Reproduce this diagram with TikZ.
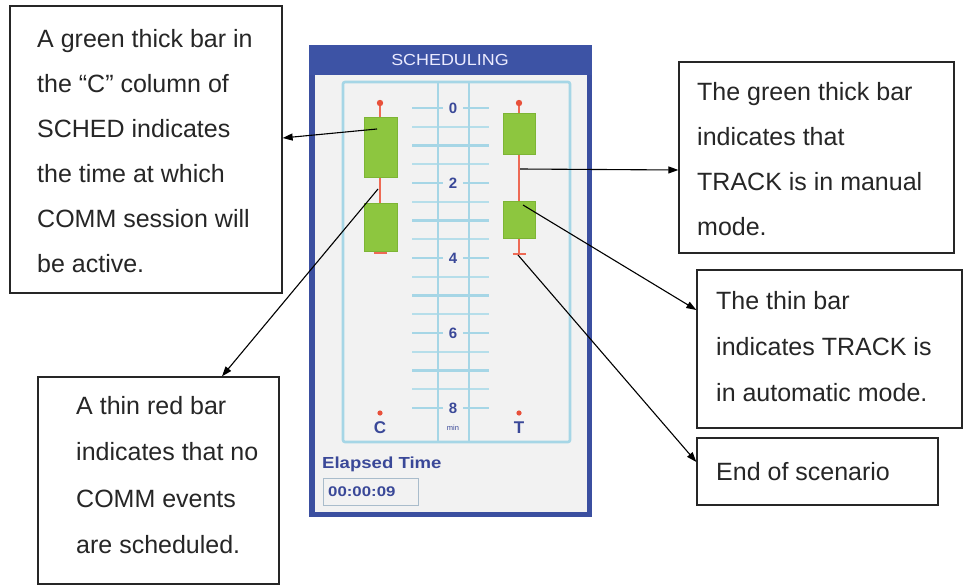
\documentclass[tikz,border=0pt]{standalone}
\usepackage{fontspec}
\setmainfont{Liberation Sans}
\usetikzlibrary{arrows.meta}
\definecolor{frameblue}{HTML}{3B4FA0}
\definecolor{titleblue}{HTML}{3D53A5}
\definecolor{panelgray}{HTML}{F2F2F2}
\definecolor{lblue}{HTML}{A6D6E6}
\definecolor{lblueminor}{HTML}{B6DEEA}
\definecolor{navy}{HTML}{3A4898}
\definecolor{barred}{HTML}{EE6A55}
\definecolor{dotred}{HTML}{E8503A}
\definecolor{bargreen}{HTML}{8DC63F}
\definecolor{bargreenedge}{HTML}{7DB535}
\definecolor{boxedge}{HTML}{A9BCCB}
\begin{document}
\begin{tikzpicture}[x=1pt,y=-1pt,
  callout/.style={draw=black!85, line width=1.3pt, inner sep=0pt, fill=white},
  ctext/.style={font=\fontsize{25}{45}\selectfont, align=left, anchor=north west, inner sep=0pt, text=black!85},
  arr/.style={-{Triangle[length=10pt,width=7pt]}, line width=1.1pt, black},
  greenbar/.style={fill=bargreen, draw=bargreenedge, line width=0.6pt},
  redline/.style={barred, line width=2pt},
  majortick/.style={lblue, line width=2.8pt},
  minortick/.style={lblueminor, line width=1.8pt},
  numlab/.style={font=\bfseries\fontsize{15}{15}\selectfont, text=navy, inner sep=0pt}
]
\useasboundingbox (0,0) rectangle (964,586);

% ---------- SCHEDULING panel ----------
\fill[frameblue] (309,45) rectangle (592,517);
\fill[titleblue] (309,45) rectangle (592,75);
\fill[panelgray] (315,75) rectangle (587,512);
\node[font=\fontsize{16}{16}\selectfont, text=white!92!blue, inner sep=0pt] (title) at (450,60) {\scalebox{1.12}[1]{SCHEDULING}};

% ticks
\foreach \i in {0,...,16}{
  \pgfmathsetmacro{\yy}{108+18.75*\i}
  \pgfmathtruncatemacro{\isodd}{mod(\i,2)}
  \pgfmathtruncatemacro{\islab}{mod(\i,4)==0 ? 1 : 0}
  \ifnum\isodd=1
    \draw[minortick] (412,\yy) -- (489,\yy);
  \else
    \ifnum\islab=1
      \draw[majortick] (412,\yy) -- (443,\yy);
      \draw[majortick] (463,\yy) -- (489,\yy);
    \else
      \draw[majortick] (412,\yy) -- (489,\yy);
    \fi
  \fi
}
\draw[lblue, line width=2.6pt, rounded corners=2pt] (343,82) rectangle (570,442);
\draw[lblue, line width=2.6pt] (438,82) -- (438,442);
\draw[lblue, line width=2.6pt] (469,82) -- (469,442);

\node[numlab] (n0) at (453,108) {0};
\node[numlab] (n2) at (453,183) {2};
\node[numlab] (n4) at (453,258) {4};
\node[numlab] (n6) at (453,333) {6};
\node[numlab] (n8) at (453,408) {8};

% C column
\draw[redline] (380,103) -- (380,253);
\draw[redline] (373.5,253) -- (386.5,253);
\fill[dotred] (380,103) circle (3.2pt);
\draw[greenbar] (364,117) rectangle (397,177);
\draw[greenbar] (364,203) rectangle (397,251);

% T column
\draw[redline] (519,103) -- (519,254);
\draw[redline] (512.5,254) -- (525.5,254);
\fill[dotred] (519,103) circle (3.2pt);
\draw[greenbar] (503,113) rectangle (535,154);
\draw[greenbar] (503,201) rectangle (535,238);

% column labels
\fill[dotred] (380,413) circle (2.6pt);
\fill[dotred] (519,413) circle (2.6pt);
\node[font=\bfseries\fontsize{17}{17}\selectfont, text=navy, inner sep=0pt] (labC) at (380,428) {C};
\node[font=\bfseries\fontsize{17}{17}\selectfont, text=navy, inner sep=0pt] (labT) at (519,428) {T};
\node[font=\fontsize{7.5}{7.5}\selectfont, text=navy, inner sep=0pt] (labmin) at (453,428) {min};

% elapsed time
\node[font=\bfseries\fontsize{16}{16}\selectfont, text=navy, anchor=west, inner sep=0pt] (elapsed) at (322,464) {\scalebox{1.16}[1]{Elapsed Time}};
\node[draw=boxedge, line width=1.3pt, minimum width=95pt, minimum height=27pt, inner sep=0pt, anchor=north west] (timebox) at (323,478) {};
\node[font=\bfseries\fontsize{14}{14}\selectfont, text=navy, anchor=west, inner sep=0pt] (timetext) at (328,492) {\scalebox{1.2}[1]{00:00:09}};

% ---------- callout boxes ----------
\node[callout, minimum width=272pt, minimum height=287pt] (A) at (146,149.5) {};
\node[callout, minimum width=241pt, minimum height=207pt] (B) at (158.5,480.5) {};
\node[callout, minimum width=275pt, minimum height=191pt] (C) at (816.5,157.5) {};
\node[callout, minimum width=265pt, minimum height=158pt] (D) at (829.5,349) {};
\node[callout, minimum width=241pt, minimum height=67pt] (E) at (817.5,471.5) {};

\node[ctext] (tA) at (37,29) {A green thick bar in\\the \char"201C C\char"201D\ column of\\SCHED indicates\\the time at which\\COMM session will\\be active.};
\node[ctext, font=\fontsize{25}{46.5}\selectfont] (tB) at (76,396) {A thin red bar\\indicates that no\\COMM events\\are scheduled.};
\node[ctext] (tC) at (697,82) {The green thick bar\\indicates that\\TRACK is in manual\\mode.};
\node[ctext, font=\fontsize{25}{46}\selectfont] (tD) at (716,291) {The thin bar\\indicates TRACK is\\in automatic mode.};
\node[ctext] (tE) at (716,462) {End of scenario};

% ---------- connectors ----------
\coordinate (s1) at (377,129);
\coordinate (s2) at (378,189);
\coordinate (s3) at (520,169);
\coordinate (s4) at (523,205);
\coordinate (s5) at (518,255);
\draw[arr] (s1) -- (A.east |- 0,138);
\draw[arr] (s2) -- (222,0 |- B.north);
\draw[arr] (s3) -- (C.west |- 0,170);
\draw[arr] (s4) -- (D.west |- 0,310);
\draw[arr] (s5) -- (E.west |- 0,462);
\end{tikzpicture}
\end{document}
